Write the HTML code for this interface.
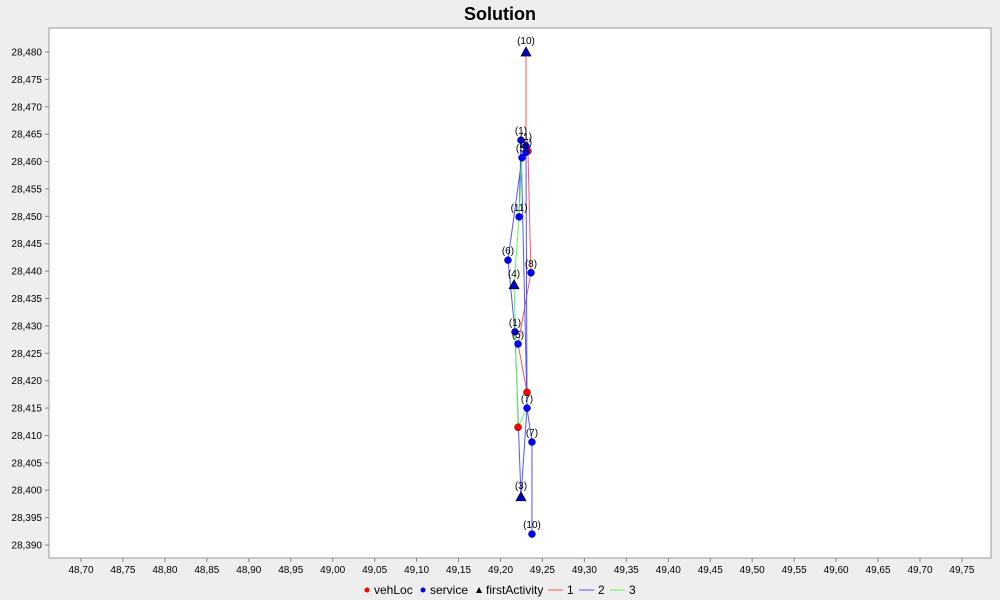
<!DOCTYPE html>
<html><head><meta charset="utf-8"><style>
html,body{margin:0;background:#eeeeee;font-family:"Liberation Sans",sans-serif;overflow:hidden;width:1000px;height:600px}
svg{display:block}
svg text{font-family:"Liberation Sans",sans-serif}
</style></head><body>
<svg id="c" width="1000" height="600">
<rect width="1000" height="600" fill="#eeeeee"/>
<text x="500" y="20" text-anchor="middle" font-size="18" font-weight="bold">Solution</text>
<rect x="49" y="28" width="942" height="530" fill="#fff" stroke="#999"/>
<g id="axes"></g><g id="lines"></g><g id="marks"></g>
<g font-size="12">
<circle cx="367" cy="590" r="2.5" fill="red"/><text x="374" y="594">vehLoc</text>
<circle cx="423" cy="590" r="2.5" fill="blue"/><text x="430" y="594">service</text>
<path d="M476,593 L479,587 L482,593Z" fill="#000"/><text x="486" y="594">firstActivity</text>
<line x1="548" y1="590" x2="563" y2="590" stroke="#f55"/><text x="567" y="594">1</text>
<line x1="579" y1="590" x2="594" y2="590" stroke="#55f"/><text x="598" y="594">2</text>
<line x1="610" y1="590" x2="625" y2="590" stroke="#5f5"/><text x="629" y="594">3</text>
</g>
</svg>
<script>
const xTicks=[48.70,48.75,48.80,48.85,48.90,48.95,49.00,49.05,49.10,49.15,49.20,49.25,49.30,49.35,49.40,49.45,49.50,49.55,49.60,49.65,49.70,49.75];
const yTicks=[28.390,28.395,28.400,28.405,28.410,28.415,28.420,28.425,28.430,28.435,28.440,28.445,28.450,28.455,28.460,28.465,28.470,28.475,28.480];
const vehLocX=[49.2316,49.2209,49.2327];
const vehLocY=[28.4179,28.4115,28.4619];
const svcX=[49.2244,49.2304,49.2304,49.2256,49.2222,49.2089,49.2363,49.2173,49.2209,49.2316,49.2375,49.2375];
const svcY=[28.4639,28.4628,28.4617,28.4607,28.4499,28.4420,28.4397,28.4289,28.4267,28.4150,28.4088,28.3920];
const svcLbl=["(1)","(1)","(6)","(5)","(11)","(6)","(8)","(1)","(5)","(7)","(7)","(10)"];
const firstX=[49.2304,49.2161,49.2244];
const firstY=[28.4800,28.4375,28.3988];
const firstLbl=["(10)","(4)","(3)"];
const route1X=[49.2304,49.2304,49.2327,49.2363,49.2209,49.2316];
const route1Y=[28.4800,28.4628,28.4619,28.4397,28.4267,28.4179];
const route2X=[49.2375,49.2375,49.2316,49.2304,49.2256,49.2089,49.2173,49.2244,49.2316,49.2244,49.2222];
const route2Y=[28.3920,28.4088,28.4150,28.4617,28.4607,28.4420,28.4289,28.3988,28.4150,28.4639,28.4499];
const route3X=[49.2316,49.2209,49.2161,49.2222,49.2256];
const route3Y=[28.4150,28.4115,28.4375,28.4499,28.4607];
const X=v=>81+(v-48.70)/0.05*41.95;
const Y=v=>52+(28.480-v)/0.005*27.39;
const NS="http://www.w3.org/2000/svg";
function mk(t,p,a){const e=document.createElementNS(NS,t);for(const k in a)e.setAttribute(k,a[k]);p.appendChild(e);return e;}
const ax=document.getElementById('axes');
xTicks.forEach(t=>{const x=X(t);
 const l=mk('line',ax,{x1:x,x2:x,y1:558,y2:562,stroke:'#888'});
 
 
 const tx=mk('text',ax,{x:x,y:573,'text-anchor':'middle','font-size':10});tx.textContent=t.toFixed(2).replace('.',',');
 
 });
yTicks.forEach(t=>{const y=Y(t);
 const l=mk('line',ax,{x1:45,x2:49,y1:y,y2:y,stroke:'#888'});
 
 
 const tx=mk('text',ax,{x:42,y:y+3.5,'text-anchor':'end','font-size':10});tx.textContent=t.toFixed(3).replace('.',',');
 
 });
const ln=document.getElementById('lines');
[[route1X,route1Y,'#ff5555','route-1'],[route2X,route2Y,'#5555ff','route-2'],[route3X,route3Y,'#55ff55','route-3']].forEach(([xs,ys,c,n])=>{
 const p=mk('polyline',ln,{points:xs.map((x,i)=>X(x)+','+Y(ys[i])).join(' '),fill:'none',stroke:c,'stroke-width':1});
 
 });
const mg=document.getElementById('marks');
vehLocX.forEach((x,i)=>{const c=mk('circle',mg,{cx:X(x),cy:Y(vehLocY[i]),r:3.5,fill:'red',stroke:'#800','stroke-width':0.5});
 
 });
svcX.forEach((x,i)=>{const cx=X(x),cy=Y(svcY[i]);
 const c=mk('circle',mg,{cx:cx,cy:cy,r:3.5,fill:'blue',stroke:'#008','stroke-width':0.5});
 
 
 const t=mk('text',mg,{x:cx,y:cy-6,'text-anchor':'middle','font-size':10});t.textContent=svcLbl[i];
 
 });
firstX.forEach((x,i)=>{const cx=X(x),cy=Y(firstY[i]);
 const p=mk('path',mg,{d:`M${cx-5},${cy+4} L${cx},${cy-5} L${cx+5},${cy+4}Z`,fill:'#0000cc',stroke:'#000','stroke-width':0.7});
 
 
 const t=mk('text',mg,{x:cx,y:cy-8,'text-anchor':'middle','font-size':10});t.textContent=firstLbl[i];
 
 });
</script>
</body></html>
